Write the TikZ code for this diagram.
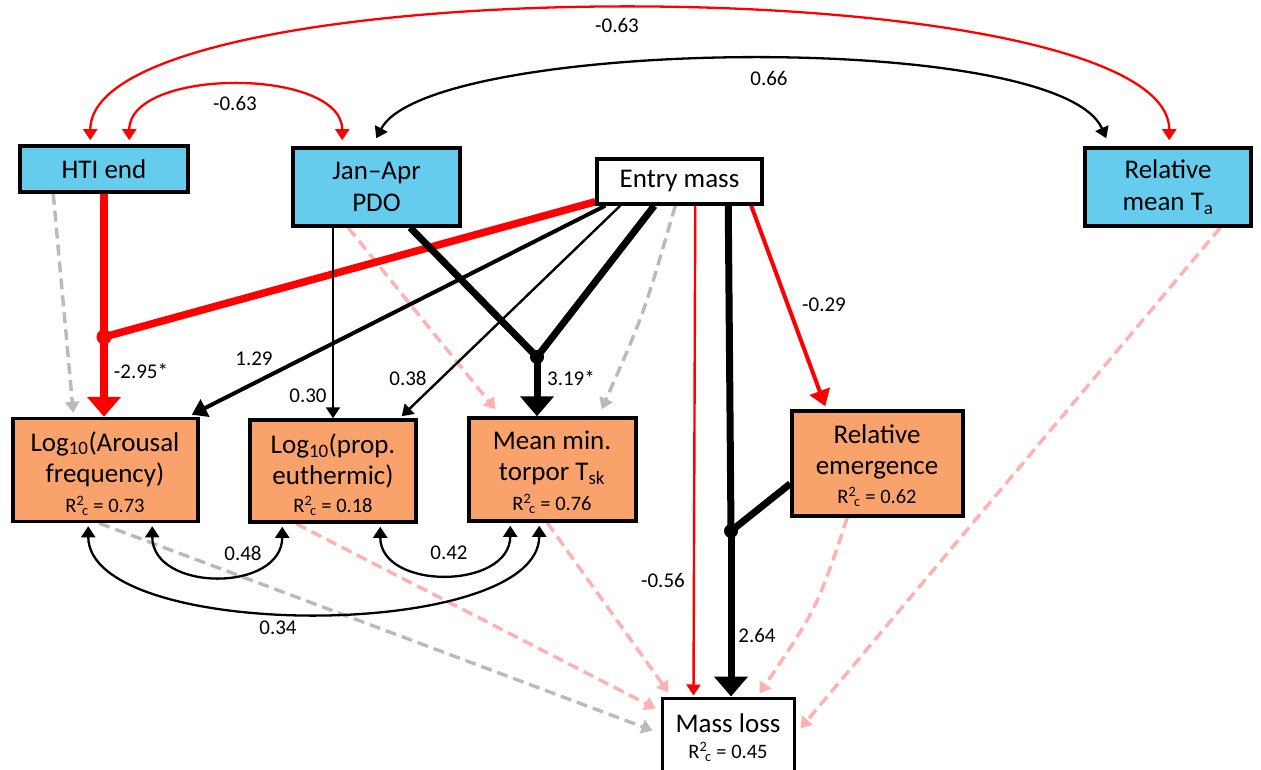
\documentclass[tikz,border=0pt]{standalone}
\usepackage{fontspec}
\setmainfont{Carlito}
\usetikzlibrary{arrows.meta,calc}
\definecolor{boxblue}{HTML}{66CCEE}
\definecolor{boxorange}{HTML}{F9A26C}
\definecolor{lpink}{HTML}{FFB0B0}
\definecolor{lgray}{HTML}{BABABA}
\definecolor{pred}{HTML}{FF0000}
\pgfdeclarelayer{bg}
\pgfsetlayers{bg,main}
\newcommand{\Rsq}{R\textsuperscript{2}\kern-0.1em\textsubscript{c}}
\begin{document}
\begin{tikzpicture}[x=1pt,y=-1pt,
  box/.style={draw=black, line width=3.5pt, inner sep=0pt, font=\fontsize{27}{32}\selectfont, align=center},
  bluebox/.style={box, fill=boxblue},
  orangebox/.style={box, fill=boxorange},
  whitebox/.style={box, fill=white},
  maintext/.style={font=\fontsize{27}{31}\selectfont, align=center, inner sep=0pt},
  rtext/.style={font=\fontsize{20.5}{24}\selectfont, inner sep=0pt},
  lab/.style={font=\fontsize{21}{24}\selectfont, inner sep=0pt},
  tipS/.style={-{Triangle[length=11pt,width=14pt]}},
  conthin/.style={line width=2.4pt, tipS},
  conmed/.style={line width=4pt, -{Triangle[length=15pt,width=19pt]}},
  conthick/.style={line width=7pt},
  bigtip/.style={-{Triangle[length=20pt,width=33pt]}},
  dashgray/.style={lgray, line width=3.4pt, dash pattern=on 11pt off 6pt, tipS},
  dashpink/.style={lpink, line width=3.4pt, dash pattern=on 11pt off 6pt, tipS},
  dblarc/.style={line width=2.3pt, {Triangle[length=11pt,width=14pt]}-{Triangle[length=11pt,width=14pt]}},
]
\useasboundingbox (0,0) rectangle (1261,770);

% boxes
\node[bluebox, minimum width=168pt, minimum height=46pt] (hti) at (104,169) {HTI end};
\node[bluebox, minimum width=167pt, minimum height=78pt] (pdo) at (376.5,187) {Jan--Apr\\PDO};
\node[whitebox, minimum width=165pt, minimum height=45pt] (entry) at (679.5,181.5) {Entry mass};
\node[bluebox, minimum width=166pt, minimum height=78pt] (ta) at (1168,187) {Relative\\mean T\textsubscript{a}};
\node[orangebox, minimum width=185pt, minimum height=103pt] (aro) at (105.5,470) {};
\node[orangebox, minimum width=166pt, minimum height=102pt] (euth) at (333,471) {};
\node[orangebox, minimum width=167pt, minimum height=103pt] (tsk) at (552.5,469.5) {};
\node[orangebox, minimum width=171pt, minimum height=105pt] (emer) at (877.5,463.5) {};
\node[whitebox, line width=3pt, minimum width=132pt, minimum height=78pt] (mloss) at (728,737) {};

% box texts
\node[maintext] (aroT) at (105,459) {Log\textsubscript{10}(Arousal\\frequency)};
\node[rtext] (aroR) at (105,506) {\Rsq{} = 0.73};
\node[maintext] (euthT) at (333,461) {Log\textsubscript{10}(prop.\\euthermic)};
\node[rtext] (euthR) at (333,506) {\Rsq{} = 0.18};
\node[maintext] (tskT) at (552,458) {Mean min.\\torpor T\textsubscript{sk}};
\node[rtext] (tskR) at (552,504) {\Rsq{} = 0.76};
\node[maintext] (emerT) at (877,452) {Relative\\emergence};
\node[rtext] (emerR) at (877,497) {\Rsq{} = 0.62};
\node[maintext] (mlT) at (728,723) {Mass loss};
\node[rtext] (mlR) at (728,752) {\Rsq{} = 0.45};

% junction points
\coordinate (d1) at (104,337);
\coordinate (d2) at (537,357);
\coordinate (d3) at (731,531);

\begin{pgfonlayer}{bg}
% non-significant paths
\draw[dashpink] ($(euth.south west)+(48,0)$) -- ($(mloss.north west)+(-5,12)$);
\draw[dashpink] ($(tsk.south west)+(80,0)$) -- ($(mloss.north west)+(8,-4)$);
\draw[dashpink] ($(emer.south west)+(57,0)$) .. controls +(-30,90) .. ($(mloss.north west)+(99,-3)$);
\draw[dashpink] ($(ta.south west)+(137,0)$) -- ($(mloss.north east)+(5,32)$);
\draw[dashpink] ($(pdo.south west)+(57,0)$) -- ($(tsk.north west)+(28,-7)$);
\draw[dashgray] ($(aro.south west)+(88,0)$) -- ($(mloss.north west)+(-8,34)$);
\draw[dashgray] ($(hti.south west)+(35,0)$) -- ($(aro.north west)+(62,-4)$);
\draw[dashgray] ($(entry.south west)+(80,0)$) .. controls +(-31,107) .. ($(tsk.north east)+(-36,-7)$);

% covariances (top)
\draw[dblarc, pred] ($(hti.north west)+(72,-4)$) .. controls +(0,-176) and +(0,-174) .. ($(ta.north west)+(86,-6)$);
\draw[dblarc, pred] ($(hti.north west)+(111,-4)$) .. controls +(0,-73) and +(0,-73) .. ($(pdo.north west)+(51,-6)$);
\draw[dblarc] ($(pdo.north west)+(85,-8)$) .. controls +(52,-100) and +(-48,-110) .. ($(ta.north west)+(23,-8)$);

% covariances (bottom)
\draw[dblarc] ($(aro.south west)+(141,3)$) .. controls +(0,66) and +(0,66) .. ($(euth.south west)+(34,3)$);
\draw[dblarc] ($(euth.south west)+(132,3)$) .. controls +(0,64) and +(0,64) .. ($(tsk.south west)+(43,3)$);
\draw[dblarc] ($(aro.south west)+(77,3)$) .. controls +(0,116) and +(0,116) .. ($(tsk.south west)+(72,3)$);

% interaction HTI end x Entry mass
\draw[conthick, pred, line width=7.5pt] (hti.south) -- (d1);
\draw[conthick, pred, line width=7.5pt] (d1) -- ($(entry.south west)+(0,-4)$);
\draw[conthick, pred, line width=7.5pt, bigtip] (d1) -- (d1 |- aro.north);
\fill[pred] (d1) circle (7.5pt);

% interaction PDO x Entry mass
\draw[conthick] ($(pdo.south west)+(119,0)$) -- (d2);
\draw[conthick] ($(entry.south west)+(59,0)$) -- (d2);
\draw[conthick, bigtip] (d2) -- (d2 |- tsk.north);
\fill (d2) circle (7pt);

% interaction Emergence x Entry mass
\draw[conthick] ($(entry.south west)+(133,0)$) -- (d3);
\draw[conthick] ($(emer.south west)+(0,-34)$) -- (d3);
\draw[conthick, bigtip] (d3) -- (d3 |- mloss.north);
\fill (d3) circle (7pt);

% other significant paths
\draw[conmed] ($(entry.south west)+(10,0)$) -- ($(aro.north east)+(-8,-2)$);
\draw[conthin] (euth.north |- pdo.south) -- (euth.north);
\draw[conthin] ($(entry.south west)+(25,0)$) -- ($(euth.north east)+(-16,-2)$);
\draw[conthin, pred] ($(entry.south west)+(100,0)$) -- ($(mloss.north west)+(33,-1)$);
\draw[pred, line width=4pt, -{Triangle[length=16pt,width=21pt]}] ($(entry.south west)+(156,0)$) -- ($(emer.north west)+(35,-3)$);
\end{pgfonlayer}

% labels
\node[lab] (l1) at (617,25) {-0.63};
\node[lab] (l2) at (235,103) {-0.63};
\node[lab] (l3) at (769,78) {0.66};
\node[lab] (l4) at (141,371) {-2.95*};
\node[lab] (l5) at (254,359) {1.29};
\node[lab] (l6) at (308,396) {0.30};
\node[lab] (l7) at (408,378) {0.38};
\node[lab] (l8) at (571,378) {3.19*};
\node[lab] (l9) at (824,305) {-0.29};
\node[lab] (l10) at (663,580) {-0.56};
\node[lab] (l11) at (757,635) {2.64};
\node[lab] (l12) at (243,553) {0.48};
\node[lab] (l13) at (449,553) {0.42};
\node[lab] (l14) at (278,628) {0.34};
\end{tikzpicture}
\end{document}
